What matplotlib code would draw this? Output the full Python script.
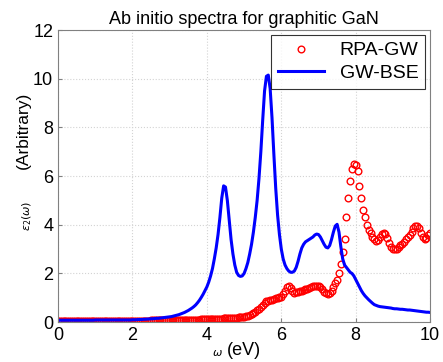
import matplotlib.pyplot as plt
import numpy as np

plt.rcParams['font.family'] = ['Liberation Sans', 'DejaVu Sans']

# energy grid (eV), 0.05 eV step
omega = np.linspace(0, 10, 201)

rpa_gw = [0.05] * 40 + [
    0.06, 0.06, 0.06, 0.06, 0.06, 0.06, 0.06, 0.06, 0.06, 0.06,
    0.07, 0.07, 0.07, 0.07, 0.07, 0.07, 0.07, 0.07, 0.07, 0.07,
    0.07, 0.07, 0.08, 0.08, 0.08, 0.08, 0.09, 0.09, 0.09, 0.09,
    0.10, 0.10, 0.10, 0.10, 0.11, 0.11, 0.11, 0.12, 0.12, 0.12,
    0.12, 0.13, 0.13, 0.13, 0.14, 0.14, 0.14, 0.15, 0.15, 0.16,
    0.16, 0.17, 0.17, 0.18, 0.18, 0.19, 0.19, 0.20, 0.21, 0.22,
    0.23, 0.25, 0.27, 0.30, 0.33, 0.37, 0.42, 0.48, 0.55, 0.62,
    0.70, 0.78, 0.85, 0.89, 0.91, 0.93, 0.95, 0.98, 1.00, 1.02,
    1.05, 1.15, 1.30, 1.45, 1.50, 1.40, 1.27, 1.20, 1.22, 1.25,
    1.28, 1.30, 1.32, 1.35, 1.38, 1.42, 1.45, 1.48, 1.50, 1.50,
    1.50, 1.45, 1.35, 1.25, 1.18, 1.15, 1.20, 1.30, 1.45, 1.60,
    1.75, 2.00, 2.40, 2.90, 3.40, 4.30, 5.10, 5.80, 6.30, 6.50,
    6.45, 6.20, 5.60, 5.10, 4.60, 4.30, 4.00, 3.80, 3.65, 3.50,
    3.40, 3.35, 3.38, 3.50, 3.62, 3.68, 3.62, 3.45, 3.25, 3.10,
    3.02, 3.00, 3.02, 3.08, 3.15, 3.22, 3.30, 3.40, 3.50, 3.60,
    3.72, 3.85, 3.95, 3.95, 3.85, 3.65, 3.50, 3.42, 3.45, 3.60, 3.65,
]

gw_bse = [0.08] * 20 + [0.09] * 20 + [
    0.10, 0.10, 0.10, 0.11, 0.11, 0.11, 0.12, 0.12, 0.13, 0.13,
    0.14, 0.14, 0.15, 0.16, 0.16, 0.17, 0.18, 0.19, 0.20, 0.21,
    0.22, 0.23, 0.25, 0.27, 0.29, 0.31, 0.34, 0.37, 0.40, 0.44,
    0.48, 0.53, 0.58, 0.64, 0.71, 0.80, 0.90, 1.02, 1.15, 1.30,
    1.45, 1.65, 1.90, 2.20, 2.60, 3.05, 3.60, 4.30, 5.10, 5.60,
    5.55, 5.00, 4.20, 3.40, 2.80, 2.35, 2.05, 1.92, 1.88, 1.90,
    2.00, 2.20, 2.45, 2.80, 3.20, 3.70, 4.30, 5.00, 5.90, 7.00,
    8.30, 9.50, 10.10, 10.15, 9.60, 8.40, 6.90, 5.50, 4.40, 3.60,
    3.00, 2.60, 2.35, 2.20, 2.10, 2.05, 2.05, 2.10, 2.25, 2.50,
    2.80, 3.05, 3.20, 3.30, 3.35, 3.40, 3.45, 3.50, 3.58, 3.62,
    3.60, 3.50, 3.35, 3.20, 3.08, 3.05, 3.15, 3.40, 3.70, 3.95,
    4.02, 3.70, 3.10, 2.60, 2.35, 2.25, 2.15, 2.05, 2.00, 1.90,
    1.75, 1.60, 1.45, 1.30, 1.18, 1.08, 1.00, 0.92, 0.85, 0.78,
    0.72, 0.69, 0.66, 0.64, 0.63, 0.62, 0.61, 0.60, 0.59, 0.58,
    0.56, 0.55, 0.55, 0.54, 0.53, 0.53, 0.52, 0.51, 0.50, 0.50,
    0.49, 0.48, 0.47, 0.46, 0.45, 0.44, 0.43, 0.42, 0.41, 0.41, 0.40,
]

fig = plt.figure(figsize=(4.43, 3.62), dpi=100)
ax = fig.add_axes([0.131, 0.110, 0.840, 0.807])

ax.plot(omega, rpa_gw, 'o', mfc='none', mec='red', ms=4.8, mew=1.0,
        label='RPA-GW')
ax.plot(omega, gw_bse, '-', color='blue', lw=2.2, label='GW-BSE')

ax.set_xlim(0, 10)
ax.set_ylim(0, 12)
ax.set_xticks(range(0, 11, 2))
ax.set_yticks(range(0, 13, 2))
ax.tick_params(direction='in', labelsize=13, length=3, color='gray')
for s in ax.spines.values():
    s.set_color('gray')
ax.grid(True, linestyle=':', color='lightgray', linewidth=0.8)

ax.set_title('Ab initio spectra for graphitic GaN', fontsize=13, pad=4)

# MATLAB-style axis labels: small symbol part, larger unit part
fig.text(0.052, 0.64, '(Arbitrary)', rotation=90, fontsize=12.5,
         ha='center', va='center')
fig.text(0.062, 0.405, r'$\epsilon_2(\omega)$', rotation=90, fontsize=8,
         ha='center', va='center')
fig.text(0.512, 0.033, '(eV)', fontsize=13, ha='left', va='center')
fig.text(0.503, 0.026, r'$\omega$', fontsize=8, ha='right', va='center')

leg = ax.legend(loc='upper right', fontsize=14, fancybox=False,
                borderaxespad=0.25, handlelength=2.4, labelspacing=0.25,
                borderpad=0.35)
leg.get_frame().set_edgecolor('black')
leg.get_frame().set_linewidth(0.8)

plt.savefig('out.png', dpi=100)
